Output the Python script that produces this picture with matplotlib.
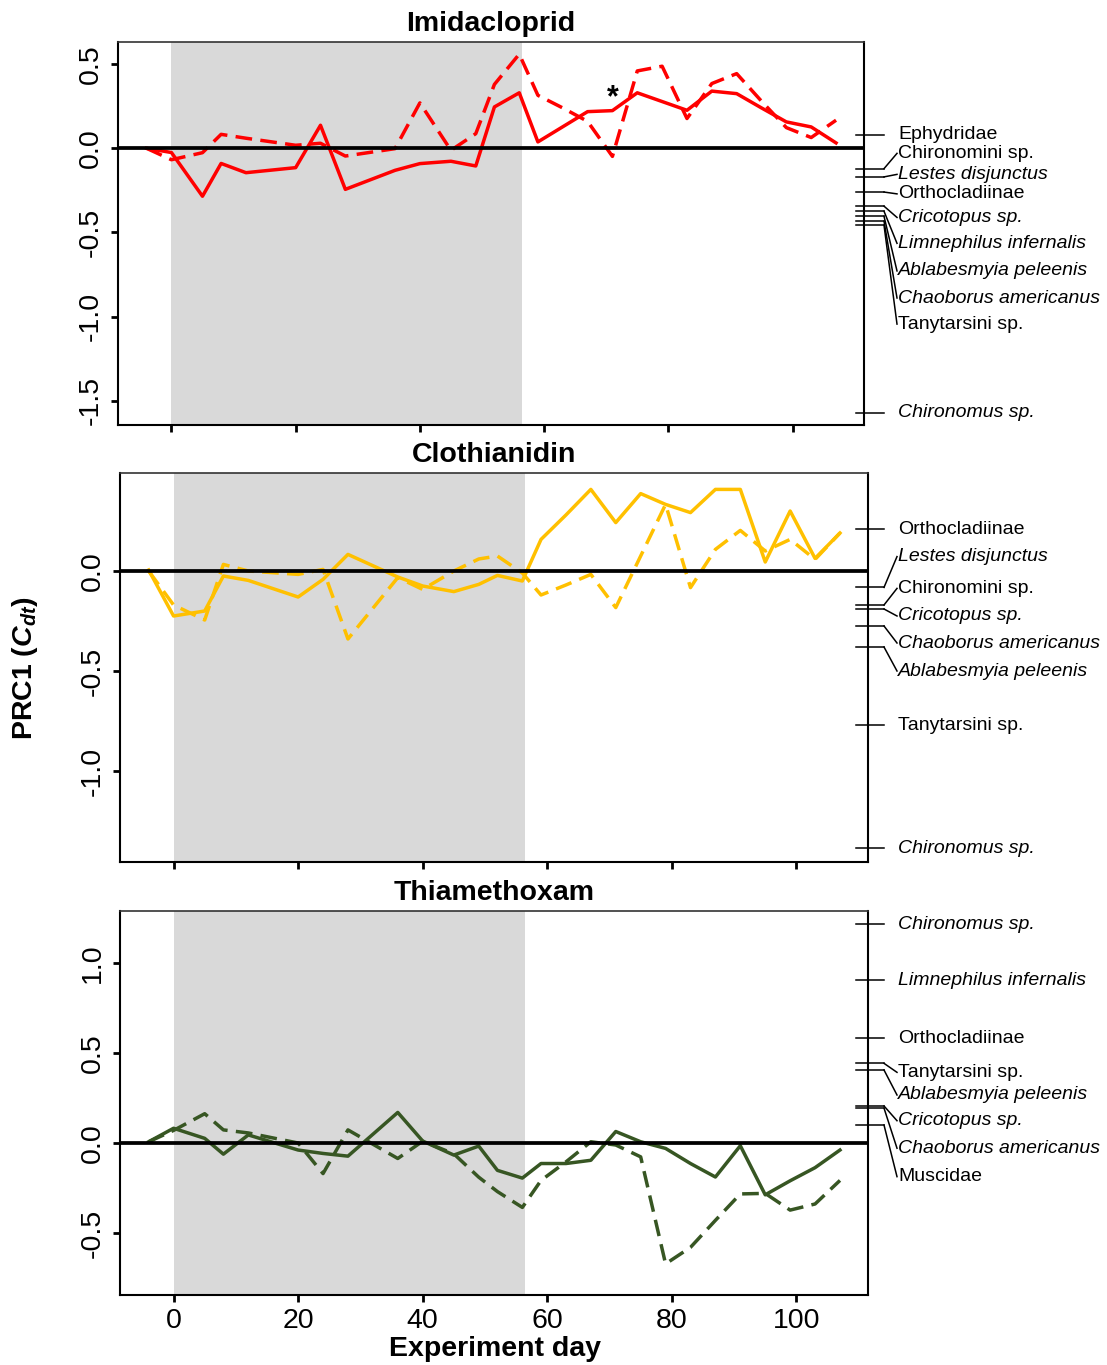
import matplotlib
matplotlib.use("Agg")
import matplotlib.pyplot as plt
from matplotlib.transforms import blended_transform_factory

plt.rcParams['font.family'] = ['Liberation Sans', 'DejaVu Sans']
plt.rcParams['mathtext.fontset'] = 'custom'
plt.rcParams['mathtext.it'] = 'Liberation Sans:italic:bold'
plt.rcParams['mathtext.rm'] = 'Liberation Sans:bold'
plt.rcParams['mathtext.bf'] = 'Liberation Sans:bold'

# ── 数据 ──────────────────────────────────────────────────────
DAYS = [-4, 0, 5, 8, 12, 20, 24, 28, 36, 40, 45, 49, 52, 56, 59, 63, 67,
        71, 75, 79, 83, 87, 91, 95, 99, 103, 107]

IMI_SOLID = [0.0, -0.025, -0.285, -0.09, -0.145, -0.115, 0.137, -0.244, -0.131,
             -0.091, -0.077, -0.105, 0.246, 0.33, 0.038, 0.128, 0.218, 0.224,
             0.33, 0.278, 0.226, 0.34, 0.325, 0.24, 0.157, 0.127, 0.032]
IMI_DASHED = [0.0, -0.068, -0.026, 0.083, 0.06, 0.018, 0.03, -0.046, -0.002,
              0.27, -0.012, 0.087, 0.38, 0.56, 0.315, 0.24, 0.16, -0.048,
              0.46, 0.488, 0.177, 0.385, 0.444, 0.28, 0.123, 0.064, 0.167]

CLO_SOLID = [0.005, -0.225, -0.2, -0.025, -0.047, -0.13, -0.042, 0.083, -0.03,
             -0.075, -0.103, -0.067, -0.022, -0.05, 0.158, 0.28, 0.408, 0.242,
             0.387, 0.333, 0.292, 0.408, 0.408, 0.045, 0.3, 0.063, 0.19]
CLO_DASHED = [0.0, -0.17, -0.245, 0.033, 0.0, -0.017, 0.008, -0.34, -0.033,
              -0.092, 0.0, 0.06, 0.075, -0.01, -0.12, -0.07, -0.017, -0.183,
              0.075, 0.333, -0.083, 0.108, 0.203, 0.1, 0.158, 0.058, 0.19]

THI_SOLID = [0.007, 0.082, 0.026, -0.062, 0.045, -0.039, -0.058, -0.073, 0.17,
             0.011, -0.067, -0.017, -0.152, -0.195, -0.114, -0.114, -0.096,
             0.064, 0.007, -0.03, -0.114, -0.189, -0.015, -0.288, -0.21,
             -0.137, -0.039]
THI_DASHED = [0.007, 0.07, 0.163, 0.073, 0.056, 0.0, -0.17, 0.073, -0.086,
              0.01, -0.06, -0.19, -0.27, -0.358, -0.208, -0.105, 0.007, -0.011,
              -0.077, -0.672, -0.58, -0.43, -0.283, -0.28, -0.373, -0.339, -0.208]

# 物种权重（右侧刻度）
IMI_TAXA = ["Ephydridae", "Chironomini sp.", "Lestes disjunctus", "Orthocladiinae",
            "Cricotopus sp.", "Limnephilus infernalis", "Ablabesmyia peleenis",
            "Chaoborus americanus", "Tanytarsini sp.", "Chironomus sp."]
IMI_WEIGHTS = [0.081, -0.121, -0.170, -0.26, -0.344, -0.374, -0.404, -0.433,
               -0.457, -1.572]

CLO_TAXA = ["Orthocladiinae", "Lestes disjunctus", "Chironomini sp.", "Cricotopus sp.",
            "Chaoborus americanus", "Ablabesmyia peleenis", "Tanytarsini sp.",
            "Chironomus sp."]
CLO_WEIGHTS = [0.21, -0.082, -0.17, -0.19, -0.275, -0.38, -0.77, -1.387]

THI_TAXA = ["Chironomus sp.", "Limnephilus infernalis", "Orthocladiinae",
            "Tanytarsini sp.", "Ablabesmyia peleenis", "Cricotopus sp.",
            "Chaoborus americanus", "Muscidae"]
THI_WEIGHTS = [1.217, 0.906, 0.582, 0.443, 0.406, 0.206, 0.194, 0.1]

ITALIC_TAXA = {"Lestes disjunctus", "Cricotopus sp.", "Limnephilus infernalis",
               "Ablabesmyia peleenis", "Chaoborus americanus", "Chironomus sp."}

# 标签位置（避免重叠后的排布）
IMI_LABEL_Y = [0.081, -0.030, -0.155, -0.271, -0.411, -0.565, -0.729, -0.890,
               -1.045, -1.572]
CLO_LABEL_Y = [0.21, 0.072, -0.087, -0.225, -0.36, -0.50, -0.77, -1.387]
THI_LABEL_Y = [1.217, 0.906, 0.582, 0.393, 0.267, 0.124, -0.029, -0.187]

W, H = 1107, 1365
fig = plt.figure(figsize=(W / 100, H / 100), dpi=100)

panels = [
    dict(title="Imidacloprid", solid=IMI_SOLID, dashed=IMI_DASHED, color="#FF0000",
         taxa=IMI_TAXA, weights=IMI_WEIGHTS, label_y=IMI_LABEL_Y,
         box=(118, 864, 42, 425), ylim=(-1.645, 0.632),
         yticks=[-1.5, -1.0, -0.5, 0.0, 0.5]),
    dict(title="Clothianidin", solid=CLO_SOLID, dashed=CLO_DASHED, color="#FFC000",
         taxa=CLO_TAXA, weights=CLO_WEIGHTS, label_y=CLO_LABEL_Y,
         box=(120, 868, 473, 862), ylim=(-1.455, 0.49),
         yticks=[-1.0, -0.5, 0.0]),
    dict(title="Thiamethoxam", solid=THI_SOLID, dashed=THI_DASHED, color="#375623",
         taxa=THI_TAXA, weights=THI_WEIGHTS, label_y=THI_LABEL_Y,
         box=(120, 868, 911, 1295), ylim=(-0.845, 1.29),
         yticks=[-0.5, 0.0, 0.5, 1.0]),
]

axes = []
for i, p in enumerate(panels):
    l, r, t, b = p["box"]
    ax = fig.add_axes([l / W, 1 - b / H, (r - l) / W, (b - t) / H])
    axes.append(ax)

    ax.axvspan(0, 56.5, color="#D9D9D9", lw=0, zorder=0)
    ax.plot(DAYS, p["solid"], color=p["color"], lw=2.5, zorder=2)
    ax.plot(DAYS, p["dashed"], color=p["color"], lw=2.5, dashes=(4.8, 2.4), zorder=2)
    ax.axhline(0, color="black", lw=2.7, zorder=3)

    ax.set_xlim(-8.6, 111.5)
    ax.set_ylim(*p["ylim"])
    ax.set_xticks([0, 20, 40, 60, 80, 100])
    ax.set_yticks(p["yticks"])
    ax.set_yticklabels([f"{v:.1f}" for v in p["yticks"]], rotation=90, va="center")
    if i < 2:
        ax.set_xticklabels([])
    ax.tick_params(direction="out", length=5, width=2, labelsize=20.5)
    ax.tick_params(axis="y", pad=5)
    ax.tick_params(axis="x", pad=4)
    for s in ax.spines.values():
        s.set_linewidth(1.5)
    ax.spines["top"].set_color("#333333")
    ax.spines["top"].set_linewidth(1.2)
    ax.set_title(p["title"], fontsize=20.5, fontweight="bold", pad=8)

    # 右侧物种刻度与标签
    tr = blended_transform_factory(fig.transFigure, ax.transData)
    x0, x1, x2 = 856 / W, 884 / W, 897 / W
    for name, w, ly in zip(p["taxa"], p["weights"], p["label_y"]):
        ax.plot([x0, x1], [w, w], color="black", lw=1.1, transform=tr, clip_on=False)
        if abs(ly - w) > 1e-9:
            ax.plot([x1, x2], [w, ly], color="black", lw=1.1, transform=tr, clip_on=False)
        ax.text(x2 + 1 / W, ly, name, transform=tr, ha="left", va="center",
                fontsize=14, style="italic" if name in ITALIC_TAXA else "normal")

# 显著性标记
axes[0].text(71, 0.3, "*", ha="center", va="center", fontsize=22, fontweight="bold")

fig.text(25 / W, 1 - 668 / H, r"PRC1 ($C_{dt}$)", rotation=90, ha="center",
         va="center", fontsize=20.5, fontweight="bold")
fig.text(495 / W, 1 - 1349 / H, "Experiment day", ha="center", va="center",
         fontsize=20.5, fontweight="bold")

fig.savefig("out.png", dpi=100)
